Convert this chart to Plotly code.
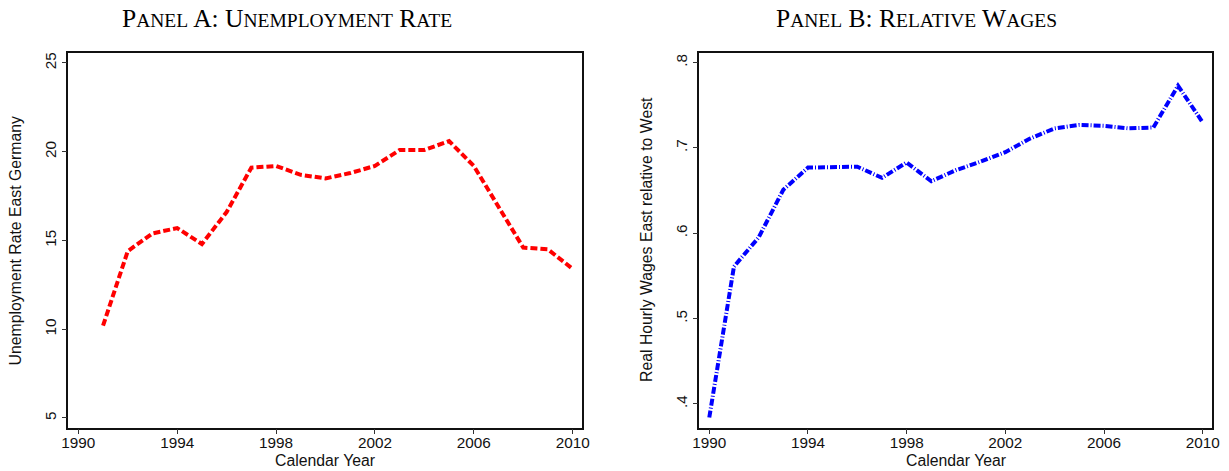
import plotly.graph_objects as go

years_a = list(range(1991, 2011))
unemp = [10.2, 14.4, 15.4, 15.7, 14.8, 16.6, 19.1, 19.2, 18.7, 18.5,
         18.8, 19.2, 20.1, 20.1, 20.6, 19.2, 16.9, 14.6, 14.5, 13.4]

years_b = list(range(1990, 2011))
relwage = [0.384, 0.561, 0.595, 0.651, 0.677, 0.677, 0.678, 0.665, 0.683, 0.661,
           0.674, 0.684, 0.695, 0.711, 0.723, 0.727, 0.726, 0.723, 0.724, 0.773, 0.730]

x_ticks = [1990, 1994, 1998, 2002, 2006, 2010]
ya_ticks = [5, 10, 15, 20, 25]
yb_ticks = [0.4, 0.5, 0.6, 0.7, 0.8]
yb_labels = [".4", ".5", ".6", ".7", ".8"]

W, H = 1229, 471

def fx(px):
    return px / W

def fy(py):
    return 1 - py / H

fig = go.Figure()

fig.add_trace(go.Scatter(x=years_a, y=unemp, mode="lines", xaxis="x", yaxis="y",
                         line=dict(color="#ff0000", width=4, dash="7px,3px"),
                         showlegend=False))
fig.add_trace(go.Scatter(x=years_b, y=relwage, mode="lines", xaxis="x2", yaxis="y2",
                         line=dict(color="#0000ff", width=4, dash="7px,2px,1px,2px"),
                         showlegend=False))

tickfont = dict(family="Liberation Sans, Arial, sans-serif", size=15.3, color="#111")
titlefont = dict(family="Liberation Sans, Arial, sans-serif", size=15.8, color="#111")
common_x = dict(showline=True, linecolor="#111", linewidth=1.5, mirror=True,
                ticks="outside", ticklen=5, tickcolor="#333", tickwidth=1,
                showgrid=False, zeroline=False, tickfont=tickfont, automargin=False,
                tickvals=x_ticks, range=[1989.595, 2010.39], ticklabelstandoff=-5)
common_y = dict(showline=True, linecolor="#111", linewidth=1.5, mirror=True,
                ticks="outside", ticklen=5, tickcolor="#333", tickwidth=1,
                showgrid=False, zeroline=False, tickfont=tickfont, tickangle=-90,
                automargin=False, ticklabelstandoff=-1)

fig.update_layout(
    width=W, height=H, margin=dict(l=0, r=0, t=0, b=0, autoexpand=False),
    paper_bgcolor="white", plot_bgcolor="white",
    xaxis=dict(domain=[fx(68.3), fx(582.3)], anchor="y", **common_x),
    xaxis2=dict(domain=[fx(699.3), fx(1212.3)], anchor="y2", **common_x),
    yaxis=dict(domain=[fy(427.7), fy(53.3)], anchor="x", range=[4.453, 25.546],
               tickvals=ya_ticks, **common_y),
    yaxis2=dict(domain=[fy(427.7), fy(53.3)], anchor="x2", range=[0.372, 0.811],
                tickvals=yb_ticks, ticktext=yb_labels, **common_y),
)

def smallcaps(words, small=19.5):
    out = []
    for w in words:
        if len(w) > 1 and w[1:].isalpha():
            out.append(w[0] + "<span style='font-size:%spx'>%s</span>" % (small, w[1:].upper()))
        else:
            out.append(w)
    return " ".join(out)

def ann(text, x, y, font, angle=0):
    fig.add_annotation(text=text, x=fx(x), y=fy(y), xref="paper", yref="paper",
                       showarrow=False, font=font, xanchor="center", yanchor="middle",
                       textangle=angle)

title_font = dict(family="Liberation Serif, Times New Roman, serif", size=25.5, color="#000")
ann(smallcaps(["Panel", "A:", "Unemployment", "Rate"]), 286.5, 19, title_font)
ann(smallcaps(["Panel", "B:", "Relative", "Wages"]), 916, 19, title_font)

ann("Calendar Year", 325.3, 460, titlefont)
ann("Calendar Year", 955.8, 460, titlefont)
ann("Unemployment Rate East Germany", 15.4, 241, titlefont, -90)
ann("Real Hourly Wages East relative to West", 646, 240, titlefont, -90)

fig.write_html("out.html", config={"displayModeBar": False},
               post_script="document.body.style.margin='0';")
